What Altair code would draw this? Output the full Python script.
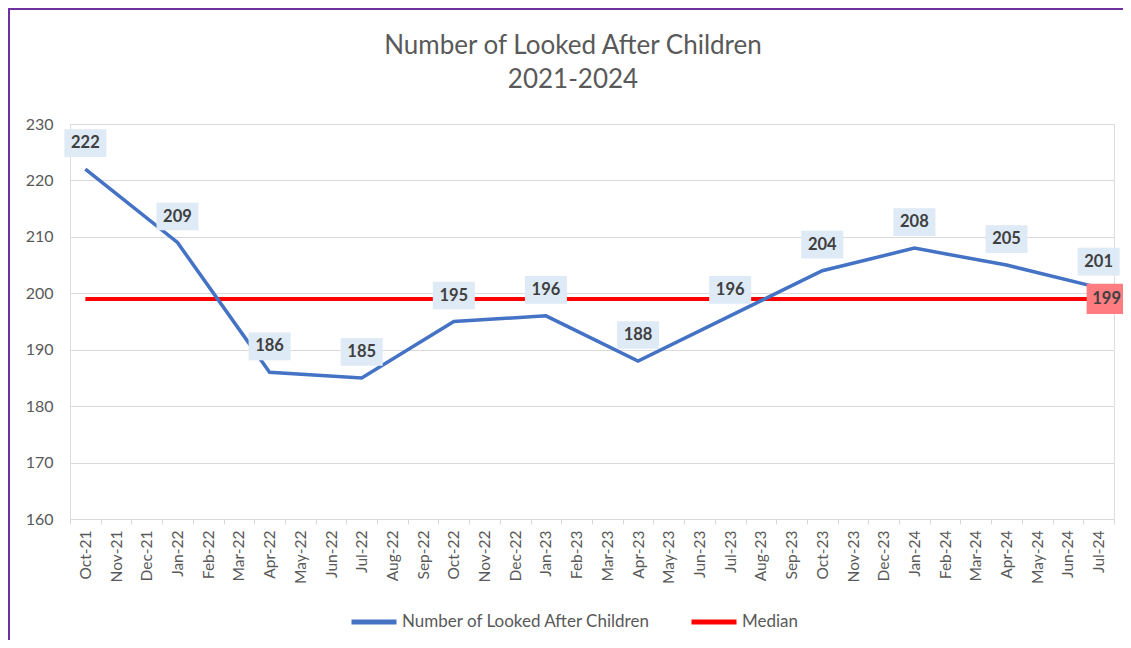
import altair as alt
import pandas as pd

months = ["Oct-21", "Nov-21", "Dec-21", "Jan-22", "Feb-22", "Mar-22", "Apr-22", "May-22",
          "Jun-22", "Jul-22", "Aug-22", "Sep-22", "Oct-22", "Nov-22", "Dec-22", "Jan-23",
          "Feb-23", "Mar-23", "Apr-23", "May-23", "Jun-23", "Jul-23", "Aug-23", "Sep-23",
          "Oct-23", "Nov-23", "Dec-23", "Jan-24", "Feb-24", "Mar-24", "Apr-24", "May-24",
          "Jun-24", "Jul-24"]
lac_months = ["Oct-21", "Jan-22", "Apr-22", "Jul-22", "Oct-22", "Jan-23", "Apr-23",
              "Jul-23", "Oct-23", "Jan-24", "Apr-24", "Jul-24"]
lac_values = [222, 209, 186, 185, 195, 196, 188, 196, 204, 208, 205, 201]
median_value = 199
series_names = ["Number of Looked After Children", "Median"]
title_lines = ["Number of Looked After Children", "2021-2024"]

FONT = "Lato"
GREY = "#595959"

lac = pd.DataFrame({"month": lac_months, "value": lac_values, "series": series_names[0]})
med = pd.DataFrame({"month": [months[0]], "month2": [months[-1]],
                    "value": [median_value], "series": series_names[1]})
med_end = pd.DataFrame({"month": [months[-1]], "value": [median_value]})

xscale = alt.Scale(type="band", domain=months, paddingInner=0, paddingOuter=0)
yscale = alt.Scale(domain=[160, 230], nice=False, zero=False)
color = alt.Color("series:N",
                  scale=alt.Scale(domain=series_names, range=["#4472C4", "#FF0000"]),
                  legend=alt.Legend(title=None, orient="none", direction="horizontal",
                                    legendX=279, legendY=473,
                                    symbolType="stroke", symbolSize=2025,
                                    symbolStrokeWidth=5, labelFontSize=17,
                                    labelColor=GREY, labelFont=FONT, labelOffset=3,
                                    labelLimit=0, columnPadding=30))

x_axis = alt.Axis(title=None, labelAngle=270, labelFontSize=15.5, labelColor=GREY,
                  labelFont=FONT, tickBand="extent", tickColor="#D9D9D9", tickSize=5,
                  domainColor="#D9D9D9", labelPadding=6, grid=False)
y_axis = alt.Axis(title=None, values=list(range(160, 231, 10)), labelFontSize=16,
                  labelColor=GREY, labelFont=FONT, ticks=False, domain=False,
                  gridColor="#D9D9D9", labelPadding=17)

median_rule = alt.Chart(med).mark_rule(strokeWidth=4).encode(
    x=alt.X("month:N", scale=xscale, axis=x_axis),
    x2="month2:N",
    y=alt.Y("value:Q", scale=yscale, axis=y_axis),
    color=color,
)

line = alt.Chart(lac).mark_line(strokeWidth=3.5).encode(
    x=alt.X("month:N", scale=xscale),
    y=alt.Y("value:Q", scale=yscale),
    color=color,
)

boxes = alt.Chart(lac).mark_point(
    shape="M-1,-0.66L1,-0.66L1,0.66L-1,0.66Z", size=1764, filled=True,
    fill="#DEEAF6", opacity=1, strokeWidth=0, yOffset=-26,
).encode(x=alt.X("month:N", scale=xscale), y=alt.Y("value:Q", scale=yscale))

texts = alt.Chart(lac).mark_text(
    font=FONT, fontSize=16.5, fontWeight="bold", color="#404040", yOffset=-26,
    baseline="middle",
).encode(x=alt.X("month:N", scale=xscale), y=alt.Y("value:Q", scale=yscale),
         text="value:Q")

med_box = alt.Chart(med_end).mark_point(
    shape="M-1,-0.72L1,-0.72L1,0.72L-1,0.72Z", size=1764, filled=True,
    fill="#FF7C80", opacity=1, strokeWidth=0, xOffset=9,
).encode(x=alt.X("month:N", scale=xscale), y=alt.Y("value:Q", scale=yscale))

med_text = alt.Chart(med_end).mark_text(
    font=FONT, fontSize=16.5, fontWeight="bold", color="#404040", xOffset=8,
    baseline="middle",
).encode(x=alt.X("month:N", scale=xscale), y=alt.Y("value:Q", scale=yscale),
         text="value:Q")

title_df = pd.DataFrame({"t": title_lines, "yy": [-78, -44]})
title = alt.Chart(title_df).mark_text(
    font=FONT, fontSize=26, color=GREY, baseline="middle", align="center",
).encode(x=alt.value(503), y=alt.Y("yy:Q", scale=None), text="t:N")

frame_df = pd.DataFrame({"k": [0]})
frame_left = alt.Chart(frame_df).mark_rule(stroke="#7030A0", strokeWidth=2).encode(
    x=alt.value(-61), y=alt.value(-115), y2=alt.value(520))
frame_top = alt.Chart(frame_df).mark_rule(stroke="#7030A0", strokeWidth=2).encode(
    x=alt.value(-62), x2=alt.value(1070), y=alt.value(-115))

chart = alt.layer(
    median_rule, line, boxes, texts, med_box, med_text, title, frame_left, frame_top
).properties(
    width=1044, height=395,
    autosize=alt.AutoSizeParams(type="none"),
    padding={"left": 62, "top": 116, "right": 9, "bottom": 121},
).configure_view(stroke=None).configure(background="white")

chart.save("out.html", embed_options={"renderer": "svg", "actions": False})
